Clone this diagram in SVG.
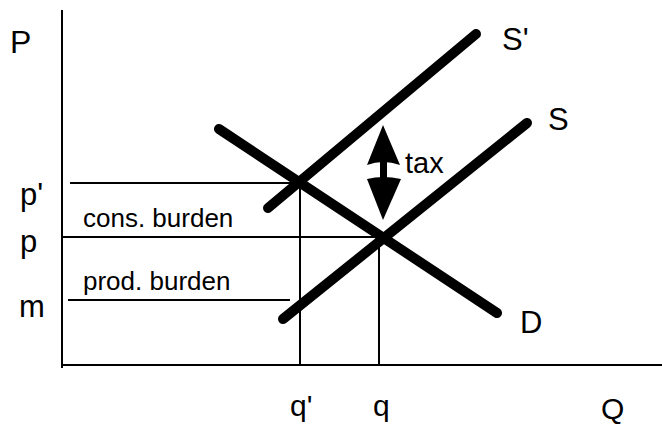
<svg xmlns="http://www.w3.org/2000/svg" width="662" height="427" viewBox="0 0 662 427">
<style>
.thin{stroke:#000;stroke-width:2;fill:none}
.curve{stroke:#000;stroke-width:10;stroke-linecap:round;fill:none}
.lbl{font-family:"Liberation Sans",Arial,sans-serif;fill:#000}
</style>
<rect width="662" height="427" fill="#fff"/>
<g id="axes">
<line class="thin" x1="62" y1="10" x2="62" y2="368"/>
<line class="thin" x1="62" y1="365" x2="662" y2="365"/>
</g>
<g id="connectors">
<line class="thin" x1="70" y1="183" x2="300" y2="183"/>
<line class="thin" x1="62" y1="237" x2="380" y2="237"/>
<line class="thin" x1="68" y1="300" x2="290" y2="300"/>
<line class="thin" x1="300" y1="181" x2="300" y2="365"/>
<line class="thin" x1="379" y1="237" x2="379" y2="365"/>
</g>
<g id="curve-D"><line class="curve" x1="219" y1="129" x2="497" y2="313"/></g>
<g id="curve-S"><line class="curve" x1="283" y1="319" x2="527" y2="123"/></g>
<g id="curve-Sprime"><line class="curve" x1="268" y1="208" x2="476" y2="34"/></g>
<g id="tax-arrow">
<path d="M383,125 L367,165 Q383,159 400,165 Z"/>
<rect x="380" y="162" width="7" height="18"/>
<path d="M383,220 L367,179 Q383,175 401,179 Z"/>
</g>
<g id="labels" class="lbl">
<text x="10" y="53" font-size="32">P</text>
<text x="20" y="205" font-size="31">p'</text>
<text x="20" y="252" font-size="31">p</text>
<text x="19" y="317" font-size="31">m</text>
<text x="290" y="416" font-size="30">q'</text>
<text x="373" y="416" font-size="30">q</text>
<text x="601" y="419" font-size="30">Q</text>
<text x="502" y="50" font-size="31">S'</text>
<text x="548" y="130" font-size="31">S</text>
<text x="520" y="333" font-size="31">D</text>
<text x="405" y="173" font-size="29">tax</text>
<text x="83" y="227" font-size="26">cons. burden</text>
<text x="83" y="290" font-size="26">prod. burden</text>
</g>
</svg>
